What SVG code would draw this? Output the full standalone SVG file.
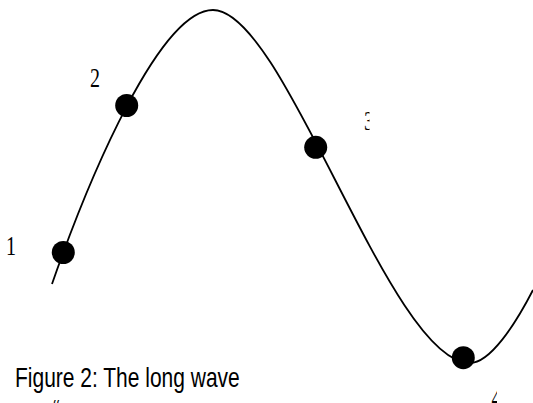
<svg xmlns="http://www.w3.org/2000/svg" width="533" height="403" viewBox="0 0 533 403">
  <style>
    .dot { fill: #000; }
    .wave { fill: none; stroke: #000; stroke-width: 1.8; }
    .num { font-family: "Liberation Serif", "Times New Roman", serif; font-size: 20px; fill: #000; }
    .cap { font-family: "Liberation Sans", Arial, sans-serif; font-size: 21px; fill: #000; }
  </style>
  <defs>
    <clipPath id="clip3"><rect x="0" y="0" width="369.5" height="403"/></clipPath>
    <clipPath id="clip4"><rect x="0" y="0" width="497" height="403"/></clipPath>
  </defs>
  <rect width="533" height="403" fill="#fff"/>
  <g id="connectors">
    <path class="wave" d="M52,284 C90,175 160,10 213,10 C285,10 390,363 470,363 C490,363 515,325 533,290"/>
  </g>
  <g id="point1">
    <circle class="dot" cx="63.3" cy="252.5" r="11.5"/>
    <text class="num" transform="translate(6,255) scale(1,1.35)">1</text>
  </g>
  <g id="point2">
    <circle class="dot" cx="126.7" cy="105.5" r="11.5"/>
    <text class="num" transform="translate(90,87) scale(1,1.35)">2</text>
  </g>
  <g id="point3">
    <circle class="dot" cx="315.7" cy="147.3" r="11.5"/>
    <g clip-path="url(#clip3)">
      <text class="num" transform="translate(364,130) scale(1,1.35)">3</text>
    </g>
  </g>
  <g id="point4">
    <circle class="dot" cx="463.3" cy="357.7" r="11.5"/>
    <g clip-path="url(#clip4)">
      <text class="num" transform="translate(491.6,407) scale(1,1.35)">4</text>
    </g>
  </g>
  <g id="caption">
    <text class="cap" transform="translate(15,386.7) scale(1,1.33)">Figure 2: The long wave</text>
    <text class="cap" transform="translate(53,419) scale(1,1.33)">“</text>
  </g>
</svg>
